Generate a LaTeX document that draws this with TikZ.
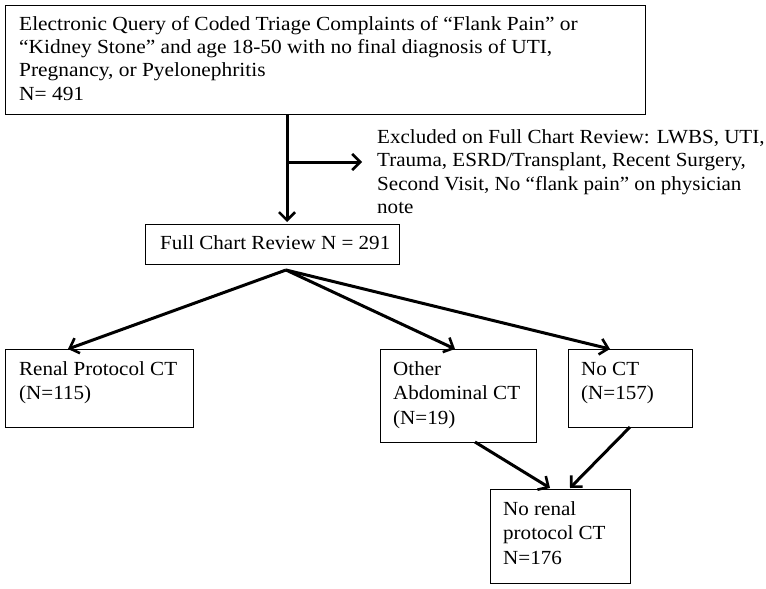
\documentclass[tikz,border=0pt]{standalone}
\usepackage{fontspec}
\setmainfont{Liberation Serif}
\newfontfamily\diagfont[FakeStretch=1.07]{Liberation Serif}
\newfontfamily\diagfontb[FakeStretch=1.053]{Liberation Serif}
\usetikzlibrary{arrows.meta}
\begin{document}
\begin{tikzpicture}[x=1pt,y=-1pt,
  boxshape/.style={draw=black, line width=1.1pt, rectangle, inner sep=0pt, anchor=north west},
  txt/.style={anchor=base west, inner sep=0pt, font=\diagfont\fontsize{20}{23.5}\selectfont},
  txtb/.style={anchor=base west, inner sep=0pt, font=\diagfontb\fontsize{20}{23.5}\selectfont},
  ctxt/.style={anchor=base west, inner sep=0pt, font=\diagfontb\fontsize{20}{24.5}\selectfont},
  flow/.style={line width=3pt, -{Straight Barb[length=8pt,width=16pt,line width=2.6pt]}}]
\useasboundingbox (0,0) rectangle (766,589);
% boxes
\node[boxshape, minimum width=640pt, minimum height=109pt] (top) at (5,5) {};
\node[boxshape, minimum width=254pt, minimum height=40pt] (full) at (145,224) {};
\node[boxshape, minimum width=188pt, minimum height=78pt] (renal) at (5,349) {};
\node[boxshape, minimum width=156pt, minimum height=93pt] (other) at (380,349) {};
\node[boxshape, minimum width=124pt, minimum height=78pt] (noct) at (568,349) {};
\node[boxshape, minimum width=140pt, minimum height=94pt] (norenal) at (490,489) {};
% texts
\node[txt] (toptext) at (19,30) {\vtop{\hbox{Electronic Query of Coded Triage Complaints of “Flank Pain” or}\hbox{“Kidney Stone” and age 18-50 with no final diagnosis of UTI,}\hbox{Pregnancy, or Pyelonephritis}\hbox{N= 491}}};
\node[txtb] (excl) at (377,143) {\vtop{\hbox{Excluded on Full Chart Review: LWBS, UTI,}\hbox{Trauma, ESRD/Transplant, Recent Surgery,}\hbox{Second Visit, No “flank pain” on physician}\hbox{note}}};
\node[txtb] (fulltext) at (160,249) {Full Chart Review N = 291};
\node[ctxt] (renaltext) at (19,375) {\vtop{\hbox{Renal Protocol CT}\hbox{(N=115)}}};
\node[ctxt] (othertext) at (393,375) {\vtop{\hbox{Other}\hbox{Abdominal CT}\hbox{(N=19)}}};
\node[ctxt] (nocttext) at (581,375) {\vtop{\hbox{No CT}\hbox{(N=157)}}};
\node[ctxt] (norenaltext) at (503,515) {\vtop{\hbox{No renal}\hbox{protocol CT}\hbox{N=176}}};
% connectors
\coordinate (topout) at (287,114);
\coordinate (branch) at (287,162);
\coordinate (exclin) at (362,162);
\coordinate (fullin) at (287,222);
\coordinate (apex) at (286,270);
\coordinate (renalin) at (68,349);
\coordinate (otherin) at (455,349);
\coordinate (noctin) at (610,349);
\coordinate (otherout) at (475,442);
\coordinate (noctout) at (630,427);
\coordinate (norenalinA) at (550,488);
\coordinate (norenalinB) at (570,488);
\draw[flow] (topout) -- (fullin);
\draw[flow] (branch) -- (exclin);
\draw[flow] (apex) -- (renalin);
\draw[flow] (apex) -- (otherin);
\draw[flow] (apex) -- (noctin);
\draw[flow] (otherout) -- (norenalinA);
\draw[flow] (noctout) -- (norenalinB);
\end{tikzpicture}
\end{document}
